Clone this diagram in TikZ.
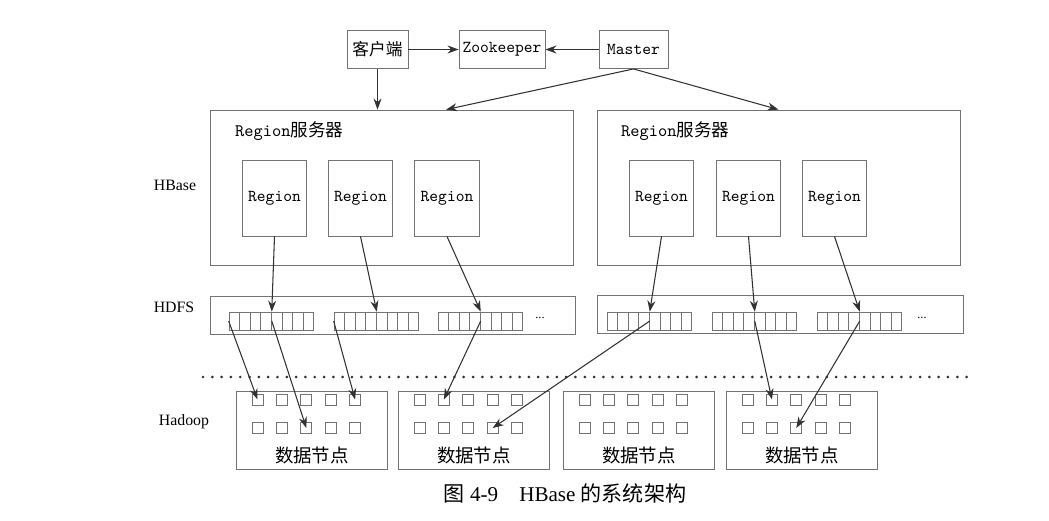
\documentclass[tikz,border=0pt]{standalone}
\usepackage{fontspec}
\setmainfont{Liberation Serif}
\newfontfamily\cjk{Noto Sans CJK SC}
\usepackage{xcolor}
\definecolor{boxline}{RGB}{115,115,115}
\definecolor{wire}{RGB}{50,50,50}
\usetikzlibrary{arrows.meta,positioning,calc}

\begin{document}
\begin{tikzpicture}[x=0.02cm, y=-0.02cm,
  topbox/.style={draw=boxline, fill=white, line width=0.5pt, minimum height=0.76cm, inner sep=2pt, font=\fontsize{9.5}{11}\selectfont},
  serverbox/.style={draw=boxline, line width=0.5pt, minimum width=7.26cm, minimum height=3.1cm},
  regionbox/.style={draw=boxline, fill=white, line width=0.5pt, minimum width=1.26cm, minimum height=1.52cm, font=\fontsize{9.5}{11}\selectfont\ttfamily},
  hdfsbox/.style={draw=boxline, line width=0.5pt, minimum height=0.76cm},
  cell/.style={draw=boxline, line width=0.4pt, minimum width=0.212cm, minimum height=0.36cm, inner sep=0pt},
  nodebox/.style={draw=boxline, line width=0.5pt, minimum width=3.02cm, minimum height=1.56cm},
  block/.style={draw=boxline, line width=0.4pt, minimum size=0.22cm, inner sep=0pt},
  layer/.style={font=\fontsize{9}{11}\selectfont},
  arrow/.style={-{Stealth[length=2.2mm, width=1.6mm]}, line width=0.6pt, color=wire}
]
\useasboundingbox (0,0) rectangle (1049,521);
\fill[white] (0,0) rectangle (1049,521);

% top row
\node[topbox, minimum width=1.22cm] (client) at (377.5,49.5) {\cjk 客户端};
\node[topbox, minimum width=1.72cm] (zk) at (502,49.5) {\ttfamily Zookeeper};
\node[topbox, minimum width=1.38cm] (master) at (633.5,49.5) {\ttfamily Master};

% region servers
\node[serverbox] (srv_a) at (391.5,187.5) {};
\node[serverbox] (srv_b) at (778.5,187.5) {};
\node[anchor=west, font=\fontsize{10}{12}\selectfont] (srv_a_lbl) at (229,131) {\ttfamily Region\cjk 服务器};
\node[anchor=west, font=\fontsize{10}{12}\selectfont] (srv_b_lbl) at (615,131) {\ttfamily Region\cjk 服务器};
\foreach \x [count=\i] in {274.5,360.5,447}
  \node[regionbox] (reg_a\i) at (\x,198) {Region};
\foreach \x [count=\i] in {661.5,748.5,834.5}
  \node[regionbox] (reg_b\i) at (\x,198) {Region};

% hdfs
\node[hdfsbox, minimum width=7.3cm] (hdfs_a) at (392.5,315) {};
\node[hdfsbox, minimum width=7.32cm] (hdfs_b) at (780,314) {};
\foreach \s/\x in {a1/229,a2/334,a3/438,b1/607,b2/712,b3/817}
  \foreach \i in {1,...,8}
    \node[cell] (cell_\s_\i) at ({\x+(\i-0.5)*10.6},321) {};
\node[font=\fontsize{7}{8}\selectfont] (more_a) at (540,318) {...};
\node[font=\fontsize{7}{8}\selectfont] (more_b) at (922,318) {...};

% layer labels
\node[layer] (lbl_hbase) at (175,185) {HBase};
\node[layer] (lbl_hdfs) at (174,307) {HDFS};
\node[layer] (lbl_hadoop) at (184,422) {Hadoop};

% separator
\coordinate (sep_l) at (203,377);
\coordinate (sep_r) at (972,377);
\draw[dash pattern=on 0pt off 5.3pt, line cap=round, line width=1.7pt, color=wire] (sep_l) -- (sep_r);

% data nodes
\foreach \x [count=\n] in {236,398,563,726} {
  \node[nodebox, anchor=north west] (dn_\n) at (\x,391) {};
  \node[font=\fontsize{10.5}{12}\selectfont] (dn_lbl_\n) at ($(dn_\n.south)+(0,-14)$) {\cjk 数据节点};
  \foreach \r/\y in {1/399.5,2/428}
    \foreach \c in {1,...,5}
      \node[block] (blk_\n_\r_\c) at ({\x+21.5+(\c-1)*24.4},\y) {};
}

% connectors
\draw[arrow] (client) -- (zk);
\draw[arrow] (master) -- (zk);
\draw[arrow] (client.south) -- (client.south |- srv_a.north);
\draw[arrow] (master.south) -- ($(srv_a.north west)!0.65!(srv_a.north east)$);
\draw[arrow] (master.south) -- (srv_b.north);

\foreach \s in {a,b}
  \foreach \i in {1,2,3}
    \draw[arrow] (reg_\s\i.south) -- (cell_\s\i_4.north east);

\draw[arrow] (cell_a1_1.west) -- (blk_1_1_1.center);
\draw[arrow] (cell_a1_4.east) -- (blk_1_2_3.center);
\draw[arrow] (cell_a2_1.west) -- (blk_1_1_5.center);
\draw[arrow] (cell_a3_4.east) -- (blk_2_1_2.center);
\draw[arrow] (cell_b1_4.east) -- (blk_2_2_4.center);
\draw[arrow] (cell_b2_4.east) -- (blk_4_1_2.center);
\draw[arrow] (cell_b3_4.east) -- (blk_4_2_3.center);

% caption
\node[font=\fontsize{12}{14}\selectfont] (caption) at (565,493) {{\cjk 图} 4-9\quad HBase {\cjk 的系统架构}};
\end{tikzpicture}
\end{document}
